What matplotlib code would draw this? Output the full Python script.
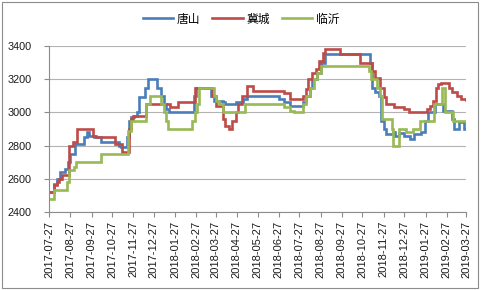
import matplotlib
matplotlib.use("Agg")
import matplotlib.pyplot as plt
import matplotlib.dates as mdates
import pandas as pd
from matplotlib.patches import Rectangle

# Price series (step changes: date the level starts, level)
tangshan_dates = [
    "2017-07-27", "2017-08-03", "2017-08-08", "2017-08-12", "2017-08-19", "2017-08-23",
    "2017-08-26", "2017-09-03", "2017-09-16", "2017-09-20", "2017-09-24", "2017-09-30",
    "2017-10-11", "2017-11-06", "2017-11-09", "2017-11-18", "2017-11-21", "2017-11-24",
    "2017-11-28", "2017-12-02", "2017-12-05", "2017-12-14", "2017-12-18", "2017-12-31",
    "2018-01-06", "2018-01-11", "2018-01-14", "2018-01-18", "2018-02-23", "2018-02-26",
    "2018-03-20", "2018-03-25", "2018-04-06", "2018-04-10", "2018-04-26", "2018-05-06",
    "2018-05-12", "2018-06-27", "2018-07-05", "2018-07-14", "2018-08-01", "2018-08-06",
    "2018-08-11", "2018-08-15", "2018-08-22", "2018-08-27", "2018-09-02", "2018-11-07",
    "2018-11-10", "2018-11-14", "2018-11-20", "2018-11-23", "2018-11-27", "2018-11-30",
    "2018-12-10", "2018-12-13", "2018-12-19", "2018-12-26", "2019-01-04", "2019-01-10",
    "2019-01-20", "2019-01-26", "2019-01-31", "2019-02-10", "2019-02-21", "2019-03-07",
    "2019-03-10", "2019-03-17", "2019-03-24", "2019-03-27",
]
tangshan_values = [
    2520, 2570, 2600, 2640, 2660, 2700,
    2750, 2810, 2850, 2880, 2860, 2850,
    2820, 2800, 2790, 2850, 2950, 2970,
    2980, 3000, 3090, 3150, 3200, 3150,
    3100, 3050, 3020, 3000, 3100, 3150,
    3100, 3070, 3060, 3050, 3060, 3080,
    3100, 3080, 3060, 3040, 3060, 3100,
    3150, 3200, 3240, 3300, 3350, 3300,
    3150, 3120, 3100, 2950, 2900, 2870,
    2880, 2856, 2876, 2860, 2840, 2870,
    2880, 2950, 3000, 3050, 3010, 2960,
    2900, 2940, 2900, 2900,
]

jicheng_dates = [
    "2017-07-27", "2017-08-03", "2017-08-08", "2017-08-11", "2017-08-15", "2017-08-25",
    "2017-08-31", "2017-09-06", "2017-09-29", "2017-10-04", "2017-10-31", "2017-11-11",
    "2017-11-21", "2017-11-24", "2017-11-27", "2017-12-16", "2018-01-20", "2018-01-31",
    "2018-02-25", "2018-03-22", "2018-03-27", "2018-04-06", "2018-04-10", "2018-04-15",
    "2018-04-20", "2018-04-25", "2018-04-29", "2018-05-05", "2018-05-11", "2018-05-20",
    "2018-07-04", "2018-07-14", "2018-08-01", "2018-08-05", "2018-08-09", "2018-08-14",
    "2018-08-20", "2018-08-24", "2018-08-30", "2018-09-03", "2018-09-25", "2018-10-24",
    "2018-11-10", "2018-11-15", "2018-11-21", "2018-11-27", "2018-11-30", "2018-12-12",
    "2018-12-26", "2019-01-03", "2019-01-29", "2019-02-02", "2019-02-07", "2019-02-11",
    "2019-02-14", "2019-02-18", "2019-03-02", "2019-03-07", "2019-03-14", "2019-03-20",
    "2019-03-27",
]
jicheng_values = [
    2520, 2560, 2580, 2600, 2625, 2800,
    2820, 2900, 2860, 2850, 2810, 2760,
    2900, 2960, 2980, 3050, 3030, 3060,
    3150, 3100, 3040, 2960, 2920, 2900,
    2950, 3000, 3050, 3100, 3160, 3130,
    3115, 3080, 3100, 3140, 3200, 3240,
    3260, 3310, 3355, 3380, 3350, 3300,
    3250, 3210, 3150, 3090, 3050, 3030,
    3020, 3000, 3020, 3040, 3070, 3150,
    3170, 3180, 3150, 3120, 3100, 3080,
    3075,
]

linyi_dates = [
    "2017-07-27", "2017-08-03", "2017-08-22", "2017-08-25", "2017-09-01", "2017-09-04",
    "2017-10-11", "2017-11-19", "2017-11-24", "2017-12-16", "2017-12-21", "2018-01-06",
    "2018-01-11", "2018-01-14", "2018-01-17", "2018-02-21", "2018-02-25", "2018-02-28",
    "2018-03-03", "2018-03-24", "2018-03-27", "2018-04-01", "2018-04-06", "2018-05-09",
    "2018-07-04", "2018-07-14", "2018-07-19", "2018-08-02", "2018-08-06", "2018-08-11",
    "2018-08-17", "2018-08-22", "2018-08-28", "2018-11-05", "2018-11-08", "2018-11-17",
    "2018-11-21", "2018-11-24", "2018-12-09", "2018-12-10", "2018-12-20", "2018-12-29",
    "2019-01-08", "2019-01-19", "2019-02-08", "2019-02-20", "2019-02-24", "2019-03-08",
    "2019-03-27",
]
linyi_values = [
    2480, 2530, 2580, 2650, 2670, 2700,
    2750, 2890, 2950, 3050, 3100, 3050,
    3000, 2950, 2900, 2950, 3000, 3050,
    3150, 3100, 3070, 3050, 3000, 3050,
    3030, 3010, 3000, 3050, 3100, 3150,
    3200, 3240, 3280, 3250, 3200, 3150,
    3100, 2960, 2900, 2800, 2900, 2880,
    2900, 2950, 3050, 3150, 3000, 2950,
    2950,
]

series_names = ["唐山", "冀城", "临沂"]
series_colors = ["#4A7EBB", "#BE4B48", "#98B954"]

tick_dates = pd.date_range("2017-07-27", "2019-03-27", freq=pd.DateOffset(months=1))
y_ticks = [2400, 2600, 2800, 3000, 3200, 3400]

cjk = ["Noto Sans CJK SC", "DejaVu Sans"]

fig = plt.figure(figsize=(4.82, 2.90), dpi=100)
fig.patch.set_facecolor("white")
fig.patches.append(Rectangle((0.004, 0.008), 0.988, 0.984, transform=fig.transFigure,
                             fill=False, edgecolor="#8c8c8c", linewidth=0.8))

ax = fig.add_axes([49 / 482, 1 - 212 / 290, (466 - 49) / 482, (212 - 46) / 290])

all_series = [
    (tangshan_dates, tangshan_values),
    (jicheng_dates, jicheng_values),
    (linyi_dates, linyi_values),
]
for (dates, values), name, color in zip(all_series, series_names, series_colors):
    ax.step(pd.to_datetime(dates), values, where="post", color=color,
            linewidth=1.9, label=name, solid_joinstyle="miter")

ax.set_xlim(pd.Timestamp("2017-07-27"), pd.Timestamp("2019-03-27"))
ax.set_ylim(2400, 3400)
ax.set_yticks(y_ticks)
ax.set_xticks(tick_dates)
ax.xaxis.set_major_formatter(mdates.DateFormatter("%Y-%m-%d"))
ax.grid(axis="y", color="#b3b3b3", linewidth=0.8)
ax.set_axisbelow(True)

for side in ("top", "right"):
    ax.spines[side].set_visible(False)
for side in ("left", "bottom"):
    ax.spines[side].set_color("#8c8c8c")
    ax.spines[side].set_linewidth(0.8)

ax.tick_params(axis="both", direction="out", length=3.5, width=0.8, color="#8c8c8c",
               labelcolor="#1a1a1a")
ax.tick_params(axis="y", pad=9, labelsize=7.8)
ax.tick_params(axis="x", pad=3, labelsize=8, labelrotation=90)
for lbl in ax.get_xticklabels() + ax.get_yticklabels():
    lbl.set_family("Liberation Sans")

fig.legend(loc="center", bbox_to_anchor=(0.5, 1 - 19 / 290), ncol=3, frameon=False,
           prop={"family": cjk, "size": 8.5}, handlelength=2.6, handletextpad=0.3,
           columnspacing=1.0)

fig.savefig("out.png", dpi=100, facecolor="white")
